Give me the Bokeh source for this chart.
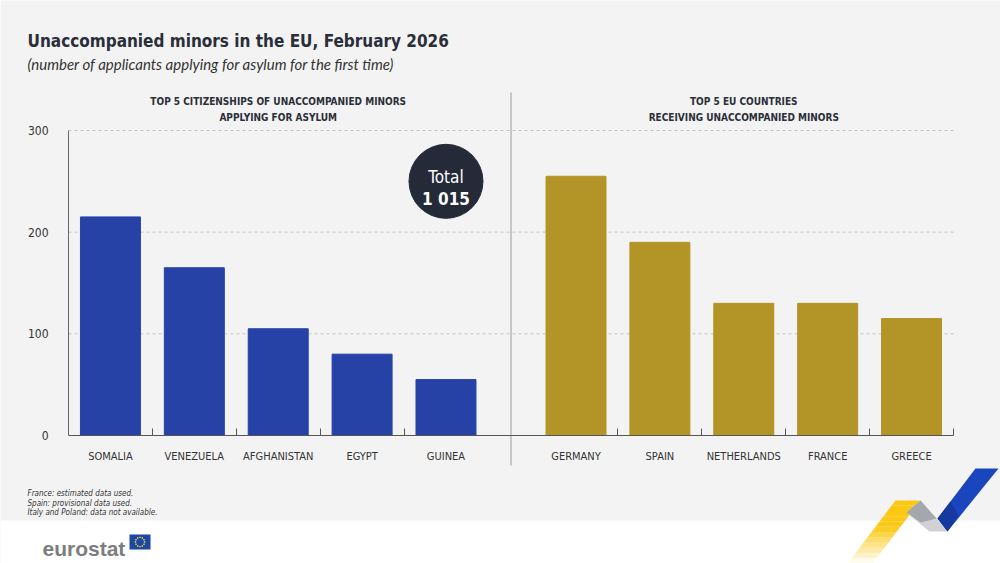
import numpy as np
from bokeh.plotting import figure
from bokeh.models import Range1d, FixedTicker, Label, BoxAnnotation, PolyAnnotation
from bokeh.embed import file_html
from bokeh.resources import INLINE

# ---- data -------------------------------------------------------------
citizenships = ["SOMALIA", "VENEZUELA", "AFGHANISTAN", "EGYPT", "GUINEA"]
citizenship_counts = [215, 165, 105, 80, 55]

receiving_countries = ["GERMANY", "SPAIN", "NETHERLANDS", "FRANCE", "GREECE"]
receiving_counts = [255, 190, 130, 130, 115]

total_applicants = "1 015"
y_ticks = [0, 100, 200, 300]

title = "Unaccompanied minors in the EU, February 2026"
subtitle = "(number of applicants applying for asylum for the first time)"
left_header = ["TOP 5 CITIZENSHIPS OF UNACCOMPANIED MINORS", "APPLYING FOR ASYLUM"]
right_header = ["TOP 5 EU COUNTRIES", "RECEIVING UNACCOMPANIED MINORS"]
footnotes = [
    "France: estimated data used.",
    "Spain: provisional data used.",
    "Italy and Poland: data not available.",
]

# ---- styling ----------------------------------------------------------
BG = "#f3f3f3"
BLUE = "#2642a7"
GOLD = "#b39426"
INK = "#2a2e39"
TEXT = "#333333"
COND = "'DejaVu Sans Condensed', 'DejaVu Sans', sans-serif"
GAP = 0.55          # empty space between the two panels, in category widths
BAR_W = 0.715

# page geometry (pixels) of the value area inside the 1000 x 563 page
W, H = 1000, 563
AREA_L, AREA_R, AREA_T, AREA_B = 68, 953, 130, 435
FOOTER_TOP = 520
Y_MAX = 300

n_left = len(citizenships)
left_x = [i + 0.5 for i in range(n_left)]
right_x = [n_left + GAP + i + 0.5 for i in range(len(receiving_countries))]
x_end = n_left + GAP + len(receiving_countries)

# the frame fills the whole page; ranges are padded so the bars land in the value area
ux = (AREA_R - AREA_L) / x_end
uy = (AREA_B - AREA_T) / Y_MAX
x_range = Range1d(-AREA_L / ux, x_end + (W - AREA_R) / ux)
y_range = Range1d(-(H - AREA_B) / uy, Y_MAX + AREA_T / uy)

p = figure(
    width=W, height=H,
    output_backend="svg", toolbar_location=None,
    x_range=x_range, y_range=y_range,
    min_border=0,
    background_fill_color=BG, border_fill_color=BG,
    outline_line_color=None,
)
p.title.visible = False
p.xgrid.visible = False
p.ygrid.visible = False


def poly(xs, ys, color, alpha=1.0):
    p.add_layout(PolyAnnotation(xs=list(xs), ys=list(ys), xs_units="canvas", ys_units="canvas",
                                fill_color=color, fill_alpha=alpha, line_color=None,
                                level="underlay"))


# white footer strip
poly([0, W, W, 0], [FOOTER_TOP, FOOTER_TOP, H, H], "#ffffff")

# dashed value grid, limited to the value area
grid_vals = [v for v in y_ticks if v > 0]
p.segment(x0=[0] * len(grid_vals), x1=[x_end] * len(grid_vals), y0=grid_vals, y1=grid_vals,
          line_color="#c4c4c4", line_dash="3 3", line_width=1)

p.vbar(x=left_x, top=citizenship_counts, width=BAR_W, color=BLUE)
p.vbar(x=right_x, top=receiving_counts, width=BAR_W, color=GOLD)

# ---- axes (pinned inside the frame) -----------------------------------
boundaries = [i + 1.0 for i in range(n_left - 1)] + [x + 0.5 for x in right_x]
xa = p.xaxis[0]
xa.fixed_location = 0
xa.bounds = (0, x_end)
xa.ticker = FixedTicker(ticks=left_x + right_x, minor_ticks=boundaries)
xa.major_label_overrides = {x: name for x, name in zip(left_x + right_x, citizenships + receiving_countries)}
xa.major_tick_line_color = None
xa.major_tick_out = 0
xa.major_tick_in = 0
xa.minor_tick_line_color = "#555555"
xa.minor_tick_in = 7
xa.minor_tick_out = 0
xa.axis_line_color = "#555555"
xa.major_label_standoff = 14
xa.major_label_text_font = COND
xa.major_label_text_font_size = "11px"
xa.major_label_text_color = TEXT

ya = p.yaxis[0]
ya.fixed_location = 0
ya.bounds = (0, Y_MAX)
ya.ticker = FixedTicker(ticks=y_ticks)
ya.major_tick_line_color = None
ya.major_tick_out = 0
ya.major_tick_in = 0
ya.minor_tick_line_color = None
ya.axis_line_color = "#666666"
ya.major_label_standoff = 20
ya.major_label_text_font = COND
ya.major_label_text_font_size = "12px"
ya.major_label_text_color = TEXT

# ---- divider between the two panels -----------------------------------
div_x = (n_left + n_left + GAP) / 2
p.add_layout(BoxAnnotation(left=div_x, right=div_x, left_units="data", right_units="data",
                           top=92, bottom=465, top_units="canvas", bottom_units="canvas",
                           fill_alpha=0, line_color="#555555", line_width=1))

# ---- total badge ------------------------------------------------------
p.scatter(x=[left_x[-1]], y=[250], size=74, color="#242a38")
p.add_layout(Label(x=left_x[-1], y=250, y_offset=4, text="Total", text_align="center",
                   text_baseline="alphabetic", text_font=COND, text_font_size="17px",
                   text_color="white"))
p.add_layout(Label(x=left_x[-1], y=250, y_offset=-18, text=total_applicants, text_align="center",
                   text_baseline="alphabetic", text_font=COND, text_font_size="17px",
                   text_font_style="bold", text_color="white"))

# ---- titles -----------------------------------------------------------
p.add_layout(Label(x=27, y=40, x_units="canvas", y_units="canvas", text=title,
                   text_font=COND, text_font_size="17px", text_font_style="bold",
                   text_color=INK, text_baseline="alphabetic"))
p.add_layout(Label(x=27, y=63, x_units="canvas", y_units="canvas", text=subtitle,
                   text_font="Lato", text_font_size="15px", text_font_style="italic",
                   text_color=TEXT, text_baseline="alphabetic"))

for lines, cx in ((left_header, n_left / 2), (right_header, n_left + GAP + len(receiving_countries) / 2)):
    for k, line in enumerate(lines):
        p.add_layout(Label(x=cx, y=101 + 16 * k, x_units="data", y_units="canvas", text=line,
                           text_align="center", text_baseline="alphabetic",
                           text_font=COND, text_font_size="10px", text_font_style="bold",
                           text_color=INK))

for k, note in enumerate(footnotes):
    p.add_layout(Label(x=27, y=493 + 9.5 * k, x_units="canvas", y_units="canvas", text=note,
                       text_font=COND, text_font_size="8px", text_font_style="italic",
                       text_color=TEXT, text_baseline="alphabetic"))

# ---- logo and ribbon --------------------------------------------------
p.add_layout(Label(x=42, y=548, x_units="canvas", y_units="canvas", text="eurostat",
                   text_font="Liberation Sans", text_font_size="21px", text_font_style="bold",
                   text_color="#7d7d7d", text_baseline="alphabetic"))
p.add_layout(BoxAnnotation(left=129, right=150, top=534, bottom=549,
                           left_units="canvas", right_units="canvas",
                           top_units="canvas", bottom_units="canvas",
                           fill_color="#1c47a8", fill_alpha=1, line_color=None))
for a in np.linspace(0, 2 * np.pi, 12, endpoint=False):
    sx, sy = 139.5 + 4.6 * np.cos(a), 541.5 + 4.6 * np.sin(a)
    p.add_layout(BoxAnnotation(left=sx - 0.7, right=sx + 0.7, top=sy - 0.7, bottom=sy + 0.7,
                               left_units="canvas", right_units="canvas",
                               top_units="canvas", bottom_units="canvas",
                               fill_color="#ffdd00", fill_alpha=1, line_color=None))


def band(xs, ys, color, alpha=1.0):
    p.add_layout(PolyAnnotation(xs=list(xs), ys=list(ys), xs_units="canvas", ys_units="canvas",
                                fill_color=color, fill_alpha=alpha, line_color=None))


# yellow strip fading out towards the bottom-left corner
slope = -48 / 63
n_slices = 12
edges = np.linspace(500, H, n_slices + 1)
for k in range(n_slices):
    y0, y1 = edges[k], edges[k + 1]
    xl0, xl1 = 895 + slope * (y0 - 500), 895 + slope * (y1 - 500)
    alpha = 1.0 if y1 <= 528 else max(0.04, 1 - (y1 - 528) / 38)
    band([xl0, xl0 + 25, xl1 + 25, xl1], [y0, y0, y1, y1], "#fcc814", alpha)

# grey fold, darker where it turns under
band([906, 920, 947, 929], [512, 500, 531, 531], "#cfd1d5")
band([906, 920, 936, 920], [512, 500, 518, 522], "#a4a7ad")
# blue strip
band([937, 975, 998, 947], [518, 468, 468, 531], "#1a46bd")
band([937, 950, 958, 947], [518, 501, 515, 531], "#1639a0")

open("out.html", "w").write(file_html(p, INLINE))
